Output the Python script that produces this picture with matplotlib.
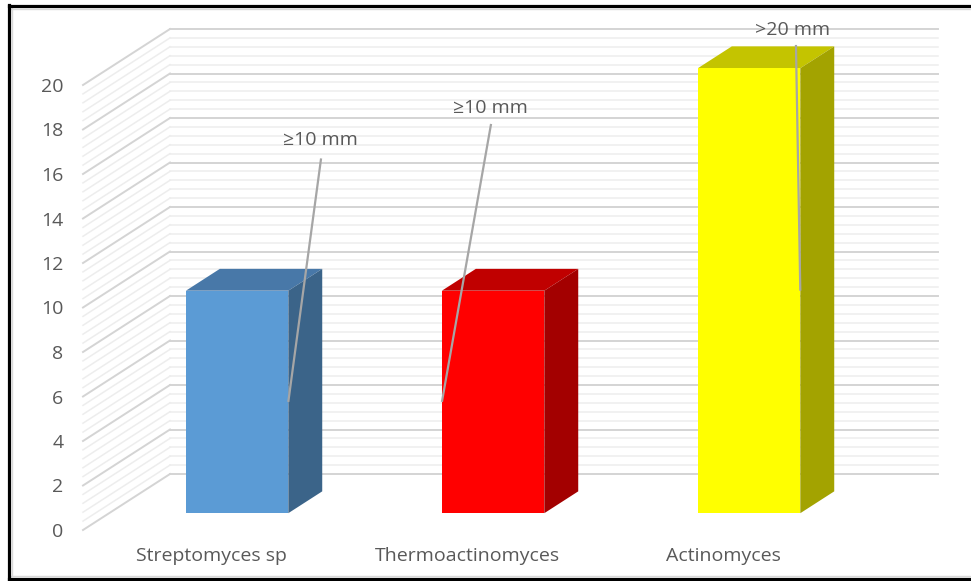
import numpy as np
import matplotlib
matplotlib.use("Agg")
import matplotlib.pyplot as plt
from matplotlib.patches import Polygon
from matplotlib.lines import Line2D

# ---- data ----
categories = ["Streptomyces sp", "Thermoactinomyces", "Actinomyces"]
values = [10, 10, 20]
annotations = ["\u226510 mm", "\u226510 mm", ">20 mm"]
y_ticks = list(range(0, 21, 2))

# ---- style ----
front_colors = ["#5B9BD5", "#FF0000", "#FFFF00"]
top_colors = ["#4878A8", "#C00000", "#C4C400"]
side_colors = ["#3B6489", "#A30000", "#A3A300"]
text_color = "#595959"
plt.rcParams['font.family'] = ['Open Sans', 'DejaVu Sans']
FS = 14

W, H = 971, 581
fig = plt.figure(figsize=(W / 100, H / 100), dpi=100)
fig.patch.set_facecolor("white")

# front plane of the 3-D box in pixel layout
x0_px, x1_px, y0_px, y1_px = 83, 851, 530, 85
ax = fig.add_axes([x0_px / W, (H - y0_px) / H, (x1_px - x0_px) / W, (y0_px - y1_px) / H])
ax.set_xlim(-0.5, 2.5)
ax.set_ylim(0, 20)
ax.set_facecolor("none")
for s in ax.spines.values():
    s.set_visible(False)

# depth offset (full depth) in data units
px_per_x = (x1_px - x0_px) / 3.0
px_per_y = (y0_px - y1_px) / 20.0
DX = 87 / px_per_x
DY = 56 / px_per_y


def P(x, v, d):
    return (x + d * DX, v + d * DY)


# side wall and back wall gridlines
for v in np.round(np.arange(0, 20.001, 0.4), 2):
    major = abs(v / 2 - round(v / 2)) < 1e-6
    col = "#D4D4D4" if major else "#EDEDED"
    lw = 1.4 if major else 1.1
    a, b = P(-0.5, v, 0), P(-0.5, v, 1)
    ax.plot([a[0], b[0]], [a[1], b[1]], color=col, lw=lw, clip_on=False, zorder=1)
    c = P(2.5, v, 1)
    ax.plot([b[0], c[0]], [b[1], c[1]], color=col, lw=lw, clip_on=False, zorder=1)

# 3-D bars
d0, d1 = 0.3, 0.69
w = 0.4
cats = np.arange(len(categories))
ax.bar(cats + d0 * DX, values, width=w, bottom=d0 * DY, color=front_colors,
       zorder=4, clip_on=False, linewidth=0)
for i, v in enumerate(values):
    xl, xr = i - w / 2, i + w / 2
    top = [P(xl, v, d0), P(xr, v, d0), P(xr, v, d1), P(xl, v, d1)]
    side = [P(xr, 0, d0), P(xr, 0, d1), P(xr, v, d1), P(xr, v, d0)]
    ax.add_patch(Polygon(top, closed=True, facecolor=top_colors[i], edgecolor="none",
                         zorder=3, clip_on=False))
    ax.add_patch(Polygon(side, closed=True, facecolor=side_colors[i], edgecolor="none",
                         zorder=3, clip_on=False))

# data labels with leader lines
label_pos = [(0.426, 17.55), (1.09, 18.95), (2.273, 22.45)]
line_start = [(0.43, 16.7), (1.094, 18.25), (2.285, 21.8)]
anchor_side = [1, -1, 1]
for i, v in enumerate(values):
    lx, ly = label_pos[i]
    ax.text(lx, ly, annotations[i], ha="center", va="center", fontsize=FS,
            color=text_color, zorder=6, clip_on=False)
    ex, ey = P(i + anchor_side[i] * w / 2, v / 2, d0)
    sx, sy = line_start[i]
    ax.plot([sx, ex], [sy, ey], color="#A6A6A6", lw=1.6, zorder=5, clip_on=False,
            solid_capstyle="butt")

# axes ticks
ax.set_yticks(y_ticks)
ax.set_yticklabels([str(t) for t in y_ticks])
ax.set_xticks(cats)
ax.set_xticklabels(categories)
ax.tick_params(axis="y", length=0, pad=14, labelsize=FS, labelcolor=text_color)
ax.tick_params(axis="x", length=0, pad=12, labelsize=FS, labelcolor=text_color)

# frame
def fline(xs, ys, color, lw):
    fig.add_artist(Line2D([x / W for x in xs], [1 - y / H for y in ys],
                          transform=fig.transFigure, color=color, lw=lw))

fline([11, 971], [8.5, 8.5], "#D9D9D9", 1.0)
fline([11.5, 11.5], [8, 576], "#D9D9D9", 1.0)
fline([11, 971], [575.5, 575.5], "#D9D9D9", 1.0)
fline([8.5, 971], [5.5, 5.5], "black", 2.3)
fline([8.5, 8.5], [4.5, 579], "black", 2.3)
fline([8.5, 971], [578.5, 578.5], "black", 2.3)

fig.savefig("out.png", dpi=100, facecolor="white")
